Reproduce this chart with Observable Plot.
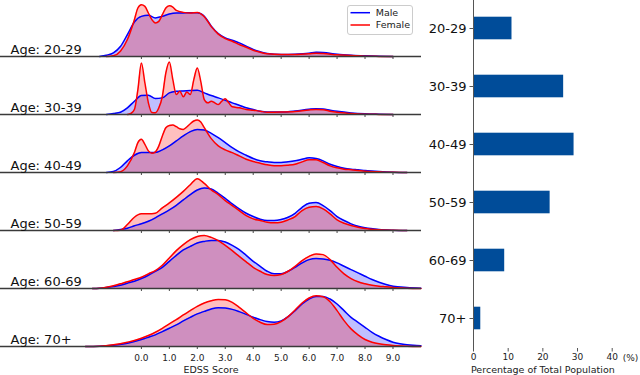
<!DOCTYPE html>
<html>
<head>
<meta charset="utf-8">
<script src="https://cdn.jsdelivr.net/npm/d3@7"></script>
<script src="https://cdn.jsdelivr.net/npm/@observablehq/plot@0.6"></script>
<style>
  html, body { margin: 0; padding: 0; background: #fff; }
  #wrap { position: relative; width: 640px; height: 375px; overflow: hidden; font-family: "DejaVu Sans", sans-serif; }
  #ridge { position: absolute; left: 0; top: -3px; }
  #bars { position: absolute; left: 420px; top: 0; }
  #legend { position: absolute; left: 347px; top: 5px; }
</style>
</head>
<body>
<div id="wrap">
  <div id="ridge"></div>
  <div id="bars"></div>
  <div id="legend"></div>
</div>
<script>
// ---- categories & ticks ----
const ageGroups = ["20-29", "30-39", "40-49", "50-59", "60-69", "70+"];
const edssTicks = [0, 1, 2, 3, 4, 5, 6, 7, 8, 9];
const pctTicks = [0, 10, 20, 30, 40];
const sexes = ["Male", "Female"];

// ---- bar values: percentage of total population per age group ----
const populationPct = [11.1, 26.0, 29.0, 22.1, 9.0, 2.1];

// ---- density curves (EDSS score, relative density height) ----
const male2029 = [[-1.5,0],[-1.25,1.3],[-1,3.7],[-0.75,10],[-0.5,22],[-0.25,34.7],[0,40.3],[0.25,41.3],[0.5,38.7],[0.75,40.3],[1,42.7],[1.25,43.7],[1.5,43.7],[1.75,44],[2,44],[2.25,40.5],[2.5,30.5],[2.75,23],[3,18.7],[3.25,16.3],[3.5,13.7],[3.75,10.3],[4,7],[4.25,4.7],[4.5,3],[5,2],[5.5,2.3],[6,3.3],[6.25,4.3],[6.5,4],[7,2.3],[7.5,1.3],[8,0.7],[8.5,0.3],[9,0]];
const female2029 = [[-1.25,0],[-1,0.7],[-0.75,5.3],[-0.5,17],[-0.25,37],[-0.125,48.7],[0,52],[0.125,50.3],[0.25,43.7],[0.375,37],[0.5,33.7],[0.625,35.3],[0.75,42],[0.875,48.7],[1,51],[1.125,49.7],[1.25,46.3],[1.5,44.3],[1.75,43.7],[2,44.3],[2.25,40],[2.5,30],[2.75,22.5],[3,18],[3.25,15.3],[3.5,12],[3.75,9.3],[4,6.3],[4.25,4.3],[4.5,2.7],[5,2],[5.5,2],[6,2.7],[6.25,3.3],[6.5,3],[7,1.7],[7.5,1],[8,0.3],[8.5,0.1],[9,0]];
const male3039 = [[-1.25,0],[-1,1],[-0.75,2.3],[-0.5,6.7],[-0.25,13.3],[0,19],[0.25,19.3],[0.5,16],[0.75,16.7],[1,21.7],[1.25,23.3],[1.5,23.7],[1.75,24],[2,24.3],[2.25,21.7],[2.5,19],[2.75,16.7],[3,14.3],[3.25,11.7],[3.5,9.3],[3.75,6.7],[4,5],[4.25,3.3],[4.5,2.5],[5,2.5],[5.5,3.5],[6,5.3],[6.25,5.8],[6.5,5.5],[6.75,4.3],[7,3.2],[7.5,1.6],[8,0.7],[8.5,0.3],[9,0]];
const female3039 = [[-0.5,0],[-0.375,1],[-0.25,5],[-0.125,25],[0,51.7],[0.125,31.7],[0.25,11.7],[0.375,2],[0.5,1.7],[0.625,6.7],[0.75,18.3],[0.875,41.7],[1,52.7],[1.125,35],[1.25,20],[1.375,23.3],[1.5,17.7],[1.625,22.7],[1.75,20],[1.875,35],[2,46.7],[2.125,33],[2.25,15],[2.375,11.7],[2.5,13.3],[2.625,11.7],[2.75,10],[2.875,13.3],[3,15.7],[3.125,11.7],[3.25,7.7],[3.5,6.7],[3.75,5],[4,4.3],[4.25,3.3],[4.5,2.3],[5,2.5],[5.5,3],[6,4.6],[6.25,5],[6.5,4.8],[6.75,3.3],[7,2.2],[7.5,1],[8,0.3],[8.5,0.1],[9,0]];
const male4049 = [[-1.25,0],[-1,1],[-0.75,5],[-0.5,11.7],[-0.25,17.3],[0,20],[0.25,20],[0.5,20],[0.75,22.7],[1,26.7],[1.25,31.7],[1.5,36.7],[1.75,41],[2,43.3],[2.25,42.7],[2.5,39.3],[2.75,35],[3,30],[3.25,25],[3.5,20.7],[3.75,17.3],[4,14],[4.25,11.7],[4.5,10.7],[4.75,10],[5,10],[5.25,10.7],[5.5,11.7],[5.75,13.3],[6,14.7],[6.25,14],[6.5,11.7],[6.75,8.3],[7,6],[7.25,4.3],[7.5,3.3],[7.75,2.7],[8,2],[8.5,1],[9,0.3],[9.5,0]];
const female4049 = [[-1,0],[-0.75,0.7],[-0.5,6.7],[-0.25,20],[-0.125,30],[0,33.3],[0.125,28.3],[0.25,21.7],[0.375,19.3],[0.5,20.7],[0.625,26.7],[0.75,36.7],[0.875,45],[1,47.3],[1.125,47.7],[1.25,46],[1.375,44],[1.5,43.3],[1.625,45.7],[1.75,49],[1.875,51.7],[2,52.7],[2.125,50.7],[2.25,45],[2.5,34],[2.75,26.7],[3,22.7],[3.25,20],[3.5,16.7],[3.75,13.3],[4,11],[4.25,9.3],[4.5,7.7],[4.75,6.7],[5,6.7],[5.25,7.3],[5.5,8.3],[5.75,10.7],[6,12.7],[6.25,12.7],[6.5,10],[6.75,6.7],[7,4.7],[7.25,3.3],[7.5,2.7],[7.75,2],[8,1.3],[8.5,0.7],[9,0.2],[9.5,0]];
const male5059 = [[-1,0],[-0.75,1],[-0.5,2.3],[-0.25,4.7],[0,6.7],[0.25,9.3],[0.5,12.7],[0.75,16.7],[1,20.7],[1.25,25.3],[1.5,30.7],[1.75,36],[2,40.7],[2.25,42.7],[2.5,41.7],[2.75,37.3],[3,32.3],[3.25,26.7],[3.5,21.7],[3.75,17.3],[4,14],[4.25,11.3],[4.5,10],[4.75,10],[5,11],[5.25,13.3],[5.5,17.3],[5.75,23.3],[6,27.3],[6.25,28],[6.5,25],[6.75,20],[7,14],[7.25,10],[7.5,6.7],[7.75,4.3],[8,2.7],[8.5,1],[9,0.3],[9.5,0]];
const female5059 = [[-1,0],[-0.75,0.3],[-0.5,6],[-0.25,13.3],[0,16.7],[0.25,16.7],[0.5,17.3],[0.75,22.7],[1,27.7],[1.25,33.3],[1.5,39.3],[1.75,46],[2,52],[2.25,47.3],[2.5,40.7],[2.75,36],[3,30],[3.25,25],[3.5,20],[3.75,15],[4,11.7],[4.25,10],[4.5,8.3],[4.75,7.7],[5,8.3],[5.25,10.7],[5.5,14],[5.75,20],[6,23.3],[6.25,24],[6.5,21.7],[6.75,16.7],[7,10.7],[7.25,7.3],[7.5,5],[7.75,3.3],[8,2],[8.5,0.7],[9,0.2],[9.5,0]];
const male6069 = [[-1.75,0],[-1.5,0.3],[-1.25,1],[-1,2],[-0.75,3.3],[-0.5,5.3],[-0.25,7.3],[0,10],[0.25,13.3],[0.5,17.3],[0.75,21.3],[1,27.3],[1.25,33.3],[1.5,38.7],[1.75,42.3],[2,45.7],[2.25,47.3],[2.5,48.3],[2.75,48.3],[3,46.7],[3.25,43.3],[3.5,39],[3.75,33.3],[4,27.3],[4.25,22.3],[4.5,17.3],[4.75,14.7],[5,14.7],[5.25,17.3],[5.5,21.3],[5.75,25.7],[6,29],[6.25,30],[6.5,29.7],[6.75,28.3],[7,25.7],[7.25,22.3],[7.5,19],[7.75,15.7],[8,12.3],[8.25,9],[8.5,6.3],[8.75,4],[9,2.3],[9.5,1],[10,0.3]];
const female6069 = [[-1.75,0],[-1.5,0.3],[-1.25,1.3],[-1,2.7],[-0.75,4.7],[-0.5,6.7],[-0.25,9],[0,11.3],[0.25,14.7],[0.5,18],[0.75,23.3],[1,30.7],[1.25,38],[1.5,44],[1.75,49],[2,52.3],[2.25,53.3],[2.5,51.3],[2.75,48],[3,43.3],[3.25,38],[3.5,32.3],[3.75,26.7],[4,21.3],[4.25,17.3],[4.5,14],[4.75,13],[5,14],[5.25,17.3],[5.5,22.3],[5.75,28],[6,32.3],[6.25,34.7],[6.5,34],[6.75,29],[7,21.3],[7.25,14.7],[7.5,10],[7.75,6.7],[8,4.7],[8.25,3.3],[8.5,2.3],[8.75,1.7],[9,1],[9.5,0.3],[10,0]];
const male70 = [[-2,0],[-1.5,0.3],[-1,1.3],[-0.5,3.3],[-0.25,5],[0,7],[0.25,9.3],[0.5,11.7],[0.75,15],[1,18.3],[1.25,21.7],[1.5,25.7],[1.75,29.3],[2,32.7],[2.25,35.3],[2.5,37.7],[2.75,39],[3,38.7],[3.25,37.3],[3.5,35],[3.75,32.3],[4,29.3],[4.25,27],[4.5,25],[4.75,24.3],[5,25.7],[5.25,30],[5.5,36],[5.75,42.7],[6,47.7],[6.25,50.3],[6.5,50.3],[6.75,47.7],[7,42.7],[7.25,36],[7.5,29.3],[7.75,24.3],[8,19.3],[8.25,14.3],[8.5,10.3],[8.75,7],[9,4.3],[9.25,2.7],[9.5,1.7],[10,0.7]];
const female70 = [[-2,0],[-1.5,0.3],[-1,1.7],[-0.5,4.3],[-0.25,6],[0,8.3],[0.25,11],[0.5,14.3],[0.75,18.3],[1,22.7],[1.25,27],[1.5,31.7],[1.75,36],[2,40.3],[2.25,43.7],[2.5,46],[2.75,47.3],[3,47],[3.25,44.3],[3.5,39.3],[3.75,33.7],[4,28.3],[4.25,24.3],[4.5,22],[4.75,22.3],[5,25],[5.25,30],[5.5,36.7],[5.75,43.7],[6,48.7],[6.25,51],[6.5,50],[6.75,45],[7,36],[7.25,26],[7.5,17.7],[7.75,11.7],[8,7],[8.25,4.3],[8.5,2.7],[8.75,1.7],[9,1],[9.5,0.3],[10,0]];

// ---- assemble tidy table ----
const curves = [
  ["20-29", male2029, female2029],
  ["30-39", male3039, female3039],
  ["40-49", male4049, female4049],
  ["50-59", male5059, female5059],
  ["60-69", male6069, female6069],
  ["70+", male70, female70]
];
const rows = curves.flatMap(([age, m, f]) => [
  ...m.map(([edss, h]) => ({age, sex: "Male", edss, h})),
  ...f.map(([edss, h]) => ({age, sex: "Female", edss, h}))
]);
const isM = d => d.sex === "Male";
const isF = d => d.sex === "Female";

const rowH = 58.24;
const FONT = "DejaVu Sans";

const ridge = Plot.plot({
  width: 421,
  height: rowH * ageGroups.length + 29,
  marginTop: 0, marginLeft: 0, marginRight: 0, marginBottom: 29,
  style: {fontFamily: FONT, fontSize: "9px", overflow: "visible", background: "transparent"},
  x: {domain: [-5.04, 10.02]},
  y: {domain: [0, rowH], axis: null},
  fy: {domain: ageGroups, axis: null, padding: 0},
  marks: [
    Plot.areaY(rows, {filter: isM, x: "edss", y: "h", fy: "age", fill: "#0000ff", fillOpacity: 0.25, curve: "monotone-x"}),
    Plot.areaY(rows, {filter: isF, x: "edss", y: "h", fy: "age", fill: "#ff0000", fillOpacity: 0.25, curve: "monotone-x"}),
    Plot.lineY(rows, {filter: isM, x: "edss", y: "h", fy: "age", stroke: "#0000ff", strokeWidth: 1.5, curve: "monotone-x"}),
    Plot.lineY(rows, {filter: isF, x: "edss", y: "h", fy: "age", stroke: "#ff0000", strokeWidth: 1.5, curve: "monotone-x"}),
    Plot.ruleY([0], {stroke: "#3a3a3a", strokeWidth: 1.6}),
    Plot.axisX({ticks: edssTicks, tickSize: 3, tickFormat: () => "", facetAnchor: null, stroke: "#444", label: null}),
    Plot.axisX({ticks: edssTicks, tickSize: 0, tickPadding: 8, tickFormat: d3.format(".1f"), facetAnchor: "bottom", label: null, fontSize: 9, fill: "#222"}),
    Plot.text(["EDSS Score"], {frameAnchor: "bottom", dy: 23.6, lineAnchor: "middle", fontSize: 9.5, fill: "#222", facetAnchor: "bottom"}),
    Plot.text(ageGroups, {fy: d => d, text: d => `Age: ${d}`, frameAnchor: "bottom-left", lineAnchor: "bottom", dx: 10, dy: -2, fontSize: 13, fill: "#111"})
  ]
});
document.getElementById("ridge").appendChild(ridge);

// ---- bar chart ----
const barRows = ageGroups.map((age, i) => ({age, pct: populationPct[i]}));
const bars = Plot.plot({
  width: 220,
  height: 375,
  marginTop: 0, marginLeft: 53, marginRight: 28.3, marginBottom: 27,
  style: {fontFamily: FONT, fontSize: "9px", overflow: "visible", background: "transparent"},
  x: {domain: [0, 40]},
  y: {domain: ageGroups, range: [-1.94, 348.94], padding: 0},
  marks: [
    Plot.barX(barRows, {x: "pct", y: "age", fill: "#004c99", insetTop: 17.7, insetBottom: 17.7}),
    Plot.ruleX([0], {stroke: "#555", strokeWidth: 1}),
    Plot.axisY({tickSize: 3.5, tickPadding: 3.5, fontSize: 13, label: null, stroke: "#555", fill: "#111"}),
    Plot.axisX({ticks: pctTicks, tickSize: 3.5, tickPadding: 2, fontSize: 9, label: null, stroke: "#555", fill: "#222"}),
    Plot.text(["(%)"], {frameAnchor: "bottom-right", dx: 18.3, dy: 9.5, textAnchor: "middle", lineAnchor: "middle", fontSize: 9, fill: "#222"}),
    Plot.text(["Percentage of Total Population"], {frameAnchor: "bottom", dy: 21, lineAnchor: "middle", fontSize: 9.5, fill: "#222"})
  ]
});
document.getElementById("bars").appendChild(bars);

// ---- legend ----
const legendColors = {Male: "#0000ff", Female: "#ff0000"};
const lg = d3.select("#legend").append("svg").attr("width", 67).attr("height", 31)
  .style("font-family", FONT).style("overflow", "visible");
lg.append("rect").attr("x", 0.5).attr("y", 0.5).attr("width", 65).attr("height", 29).attr("rx", 2.5)
  .attr("fill", "white").attr("fill-opacity", 0.8).attr("stroke", "#cccccc");
sexes.forEach((s, i) => {
  const cy = 7.7 + i * 12.3;
  lg.append("line").attr("x1", 3.5).attr("x2", 23).attr("y1", cy).attr("y2", cy)
    .attr("stroke", legendColors[s]).attr("stroke-width", 1.5);
  lg.append("text").attr("x", 28.7).attr("y", cy).attr("dy", "0.35em")
    .attr("font-size", 9.5).attr("fill", "#222").text(s);
});
</script>
</body>
</html>
